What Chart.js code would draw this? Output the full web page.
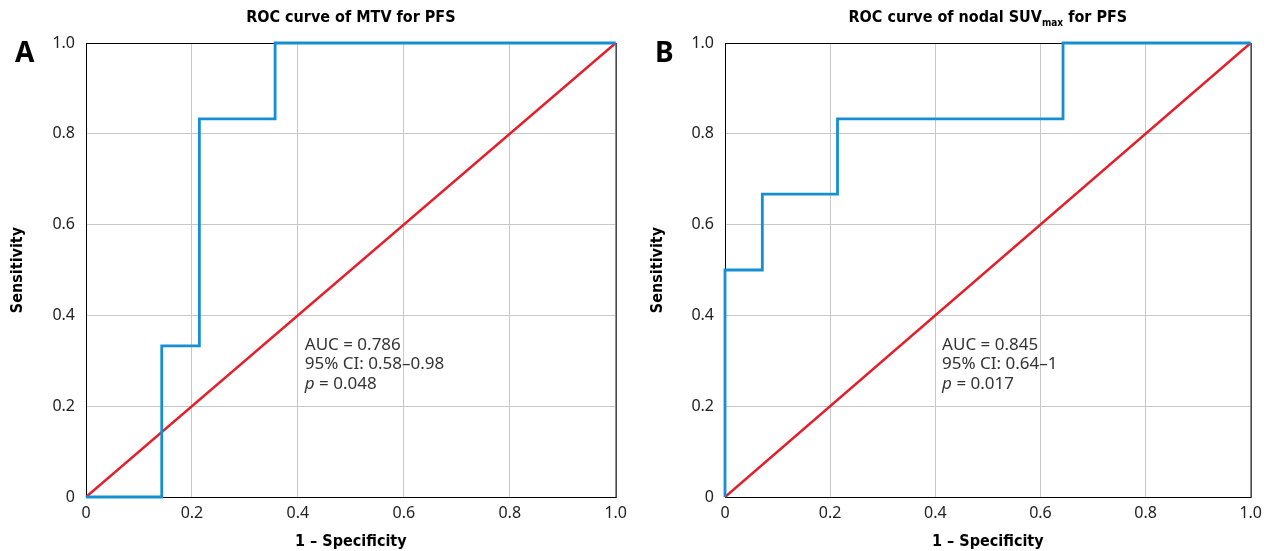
<!DOCTYPE html>
<html>
<head>
<meta charset="utf-8">
<script src="https://cdn.jsdelivr.net/npm/chart.js@4.4.1/dist/chart.umd.min.js"></script>
<style>
  html, body { margin: 0; padding: 0; background: #fff; }
  #wrap { position: relative; width: 1269px; height: 551px; overflow: hidden; }
  .panel { position: absolute; top: 0; height: 551px; }
  #panelA { left: 0; width: 634px; }
  #panelB { left: 634px; width: 635px; }
</style>
</head>
<body>
<div id="wrap">
  <div class="panel" id="panelA"><canvas id="chartA"></canvas></div>
  <div class="panel" id="panelB"><canvas id="chartB"></canvas></div>
</div>
<script>
// ROC points (1 - specificity, sensitivity)
var mtvFpr = [0, 0.143, 0.143, 0.214, 0.214, 0.357, 0.357, 1];
var mtvTpr = [0, 0, 0.333, 0.333, 0.833, 0.833, 1, 1];
var suvFpr = [0, 0, 0.071, 0.071, 0.214, 0.214, 0.643, 0.643, 1];
var suvTpr = [0, 0.5, 0.5, 0.667, 0.667, 0.833, 0.833, 1, 1];
var refLine = [0, 1];
var tickValues = [0, 0.2, 0.4, 0.6, 0.8, 1.0];

var statsA = ['AUC = 0.786', '95% CI: 0.58\u20130.98', '0.048'];
var statsB = ['AUC = 0.845', '95% CI: 0.64\u20131', '0.017'];

var FONT = '"Noto Sans", "Open Sans", sans-serif';
var TITLE_FONT = '"DejaVu Sans Condensed", "Noto Sans", sans-serif';

function toPoints(xs, ys) {
	return xs.map(function (x, i) { return { x: x, y: ys[i] }; });
}

function tickLabel(v) {
	return v === 0 ? '0' : v.toFixed(1);
}

// frame, panel letter, title and stats text
var decorPlugin = {
	id: 'decor',
	beforeDatasetsDraw: function (chart) {
		var a = chart.chartArea, ctx = chart.ctx;
		ctx.save();
		ctx.strokeStyle = '#000';
		ctx.lineWidth = 1;
		ctx.strokeRect(a.left + 0.5, a.top + 0.5, a.right - a.left, a.bottom - a.top);
		ctx.restore();
	},
	afterDraw: function (chart) {
		var o = chart.options.plugins.decor;
		var ctx = chart.ctx, a = chart.chartArea;
		var xs = chart.scales.x, ys = chart.scales.y;
		ctx.save();
		ctx.fillStyle = '#000';

		// panel letter
		ctx.font = 'bold 28px ' + FONT;
		ctx.textAlign = 'left';
		ctx.textBaseline = 'alphabetic';
		ctx.fillText(o.letter, o.letterX, 62);

		// title, with optional subscript
		var cx = (a.left + a.right) / 2, ty = 22;
		var main = 'bold 16px ' + TITLE_FONT, sub = 'bold 10px ' + TITLE_FONT;
		ctx.font = main;
		var w1 = ctx.measureText(o.title[0]).width;
		var w3 = ctx.measureText(o.title[2]).width;
		ctx.font = sub;
		var w2 = o.title[1] ? ctx.measureText(o.title[1]).width : 0;
		var x = cx - (w1 + w2 + w3) / 2;
		ctx.font = main;
		ctx.fillText(o.title[0], x, ty);
		if (o.title[1]) {
			ctx.font = sub;
			ctx.fillText(o.title[1], x + w1, ty + 4);
		}
		ctx.font = main;
		ctx.fillText(o.title[2], x + w1 + w2, ty);

		// stats block
		var sx = xs.getPixelForValue(0.413), sy = ys.getPixelForValue(0.335);
		ctx.fillStyle = '#333';
		ctx.font = '17px ' + FONT;
		ctx.textBaseline = 'middle';
		ctx.fillText(o.stats[0], sx, sy);
		ctx.fillText(o.stats[1], sx, sy + 19.5);
		ctx.font = 'italic 17px ' + FONT;
		ctx.fillText('p', sx, sy + 39);
		var pw = ctx.measureText('p').width;
		ctx.font = '17px ' + FONT;
		ctx.fillText(' = ' + o.stats[2], sx + pw, sy + 39);
		ctx.restore();
	}
};

function create(id, opts) {
	return new Chart(document.getElementById(id), {
		type: 'scatter',
		data: {
			datasets: [{
				data: toPoints(opts.fpr, opts.tpr),
				showLine: true,
				borderColor: '#168fd2',
				borderWidth: 2.8,
				pointRadius: 0,
				clip: false,
				order: 1
			}, {
				data: toPoints(refLine, refLine),
				showLine: true,
				borderColor: '#e2202b',
				borderWidth: 2.4,
				pointRadius: 0,
				clip: false,
				order: 2
			}]
		},
		options: {
			responsive: true,
			maintainAspectRatio: false,
			animation: false,
			layout: { padding: { top: 43, right: opts.padRight, bottom: 0, left: 0 } },
			plugins: {
				legend: { display: false },
				tooltip: { enabled: false },
				decor: { letter: opts.letter, letterX: opts.letterX, title: opts.title, stats: opts.stats }
			},
			scales: {
				x: {
					type: 'linear', min: 0, max: 1,
					afterBuildTicks: function (s) { s.ticks = tickValues.map(function (v) { return { value: v }; }); },
					afterFit: function (s) { s.height = 54; },
					grid: { color: '#c8c8c8', drawTicks: false },
					border: { display: false },
					ticks: { callback: tickLabel, padding: 7, color: '#222', font: { family: FONT, size: 16 }, maxRotation: 0 },
					title: { display: true, text: '1 \u2013 Specificity', color: '#000', padding: { top: 0, bottom: 0 }, font: { family: TITLE_FONT, size: 16, weight: 'bold' } }
				},
				y: {
					type: 'linear', min: 0, max: 1,
					afterBuildTicks: function (s) { s.ticks = tickValues.map(function (v) { return { value: v }; }); },
					afterFit: function (s) { s.width = opts.yWidth; },
					grid: { color: '#c8c8c8', drawTicks: false },
					border: { display: false },
					ticks: { callback: tickLabel, padding: 11, color: '#222', font: { family: FONT, size: 16 } },
					title: { display: true, text: 'Sensitivity', color: '#000', padding: { top: opts.yTitlePad, bottom: 0 }, font: { family: TITLE_FONT, size: 16, weight: 'bold' } }
				}
			}
		},
		plugins: [decorPlugin]
	});
}

create('chartA', {
	fpr: mtvFpr, tpr: mtvTpr, letter: 'A', letterX: 15,
	title: ['ROC curve of MTV for PFS', '', ''],
	stats: statsA, yWidth: 86, yTitlePad: 8, padRight: 18
});
create('chartB', {
	fpr: suvFpr, tpr: suvTpr, letter: 'B', letterX: 21,
	title: ['ROC curve of nodal SUV', 'max', ' for PFS'],
	stats: statsB, yWidth: 91, yTitlePad: 14, padRight: 13
});
</script>
</body>
</html>
